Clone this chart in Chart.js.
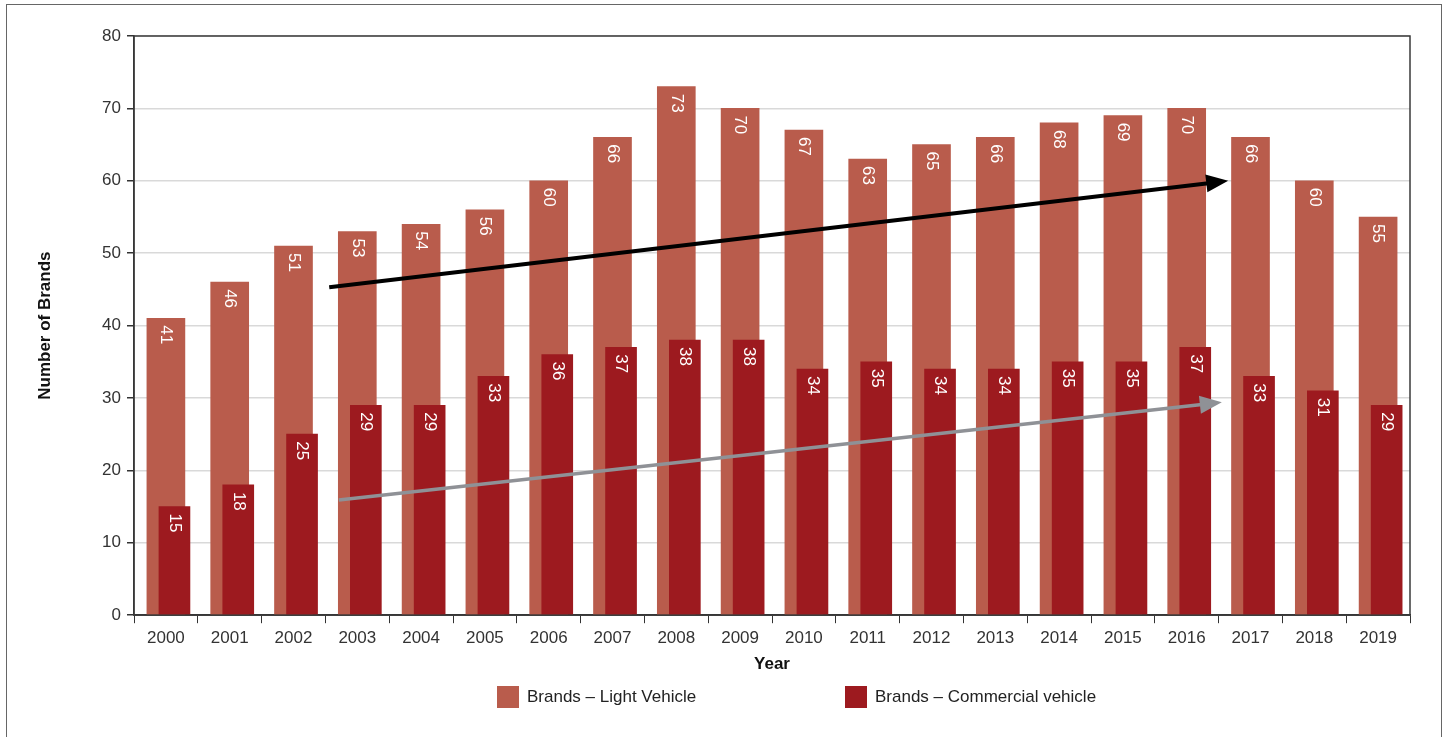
<!DOCTYPE html>
<html>
<head>
<meta charset="utf-8">
<title>Number of Brands</title>
<script src="https://cdn.jsdelivr.net/npm/chart.js@4.4.1/dist/chart.umd.min.js"></script>
<style>
  body { margin: 0; background: #fff; font-family: "Liberation Sans", Arial, sans-serif; }
  #frame {
    position: absolute; left: 6px; top: 4px; width: 1436px; height: 760px;
    border: 1px solid #666; box-sizing: border-box;
  }
  #chart { position: absolute; left: 0; top: 0; }
  .legend-item {
    position: absolute; top: 681px; display: flex; align-items: center;
    font-size: 17px; color: #222; white-space: nowrap;
  }
  .legend-box { width: 22px; height: 22px; margin-right: 8px; }
</style>
</head>
<body>
<div id="frame">
  <canvas id="chart" width="1434" height="690"></canvas>
  <div id="legend"></div>
</div>
<script>
// values
const years = ["2000", "2001", "2002", "2003", "2004", "2005", "2006", "2007", "2008", "2009",
               "2010", "2011", "2012", "2013", "2014", "2015", "2016", "2017", "2018", "2019"];
const lightVehicle = [41, 46, 51, 53, 54, 56, 60, 66, 73, 70, 67, 63, 65, 66, 68, 69, 70, 66, 60, 55];
const commercialVehicle = [15, 18, 25, 29, 29, 33, 36, 37, 38, 38, 34, 35, 34, 34, 35, 35, 37, 33, 31, 29];
const yTicks = [0, 10, 20, 30, 40, 50, 60, 70, 80];

// trend arrows, in data units: [year index, number of brands]
const trendArrows = [
  { from: [2.56, 45.3], to: [16.65, 60.0], color: "#000000", width: 4 },
  { from: [2.71, 15.9], to: [16.55, 29.4], color: "#8f9196", width: 3.5 },
];

const LIGHT = "#b95c4c";
const COMMERCIAL = "#9d1a1f";
const FONT = "'Liberation Sans', Arial, sans-serif";
const COMMERCIAL_SHIFT = 0.134; // commercial bars sit a little right of centre

// dark border round the plot area
const plotFrame = {
  id: "plotFrame",
  afterDraw(chart) {
    const { ctx, chartArea: a } = chart;
    ctx.save();
    ctx.strokeStyle = "#3a3a3a";
    ctx.lineWidth = 1.5;
    ctx.strokeRect(a.left, a.top, a.right - a.left, a.bottom - a.top);
    ctx.restore();
  },
};

// white rotated value labels near the top of each bar
const barLabels = {
  id: "barLabels",
  afterDatasetsDraw(chart) {
    const { ctx } = chart;
    ctx.save();
    ctx.fillStyle = "#ffffff";
    ctx.font = "17px " + FONT;
    ctx.textAlign = "left";
    ctx.textBaseline = "middle";
    chart.data.datasets.forEach((ds, di) => {
      const meta = chart.getDatasetMeta(di);
      meta.data.forEach((bar, i) => {
        const v = ds.data[i];
        const value = typeof v === "object" ? v.y : v;
        ctx.save();
        ctx.translate(bar.x, bar.y + 7);
        ctx.rotate(Math.PI / 2);
        ctx.fillText(String(value), 0, 0);
        ctx.restore();
      });
    });
    ctx.restore();
  },
};

// straight trend arrows over the bars
const arrows = {
  id: "arrows",
  afterDatasetsDraw(chart) {
    const { ctx } = chart;
    const xs = chart.scales.x2;
    const ys = chart.scales.y;
    trendArrows.forEach((a) => {
      const x1 = xs.getPixelForValue(a.from[0]);
      const y1 = ys.getPixelForValue(a.from[1]);
      const x2 = xs.getPixelForValue(a.to[0]);
      const y2 = ys.getPixelForValue(a.to[1]);
      const ang = Math.atan2(y2 - y1, x2 - x1);
      const headLen = 22, headHalf = 9;
      const bx = x2 - headLen * Math.cos(ang);
      const by = y2 - headLen * Math.sin(ang);
      ctx.save();
      ctx.strokeStyle = a.color;
      ctx.fillStyle = a.color;
      ctx.lineWidth = a.width;
      ctx.beginPath();
      ctx.moveTo(x1, y1);
      ctx.lineTo(bx + 2 * Math.cos(ang), by + 2 * Math.sin(ang));
      ctx.stroke();
      ctx.beginPath();
      ctx.moveTo(x2, y2);
      ctx.lineTo(bx + headHalf * Math.sin(ang), by - headHalf * Math.cos(ang));
      ctx.lineTo(bx - headHalf * Math.sin(ang), by + headHalf * Math.cos(ang));
      ctx.closePath();
      ctx.fill();
      ctx.restore();
    });
  },
};

// html legend under the chart
const legendLeft = [497, 845];
const htmlLegend = {
  id: "htmlLegend",
  afterUpdate(chart) {
    const box = document.getElementById("legend");
    box.innerHTML = "";
    const items = chart.options.plugins.legend.labels.generateLabels(chart)
      .sort((a, b) => a.datasetIndex - b.datasetIndex);
    items.forEach((item, i) => {
      const el = document.createElement("div");
      el.className = "legend-item";
      el.style.left = (legendLeft[i] - 7) + "px";
      const sw = document.createElement("span");
      sw.className = "legend-box";
      sw.style.background = item.fillStyle;
      const tx = document.createElement("span");
      tx.textContent = item.text;
      el.appendChild(sw);
      el.appendChild(tx);
      box.appendChild(el);
    });
  },
};

new Chart(document.getElementById("chart"), {
  type: "bar",
  data: {
    labels: years,
    datasets: [
      {
        label: "Brands – Light Vehicle",
        data: lightVehicle,
        backgroundColor: LIGHT,
        xAxisID: "x",
        barThickness: 38,
        grouped: false,
        order: 2,
      },
      {
        label: "Brands – Commercial vehicle",
        data: commercialVehicle.map((v, i) => ({ x: i + COMMERCIAL_SHIFT, y: v })),
        backgroundColor: COMMERCIAL,
        xAxisID: "x2",
        barThickness: 31,
        grouped: false,
        order: 1,
      },
    ],
  },
  options: {
    responsive: false,
    animation: false,
    layout: { padding: { left: 24, right: 31, top: 31, bottom: 15 } },
    plugins: {
      legend: { display: false },
      tooltip: { enabled: false },
    },
    scales: {
      x: {
        type: "category",
        offset: true,
        grid: { drawOnChartArea: false, drawTicks: true, tickLength: 8, color: "#333", offset: true },
        border: { color: "#333", width: 1.5 },
        ticks: { color: "#333", font: { family: FONT, size: 17 }, padding: 5, maxRotation: 0 },
        title: {
          display: true, text: "Year", color: "#111",
          font: { family: FONT, size: 17, weight: "bold" }, padding: { top: 1, bottom: 5 },
        },
      },
      x2: {
        type: "linear",
        display: false,
        min: -0.5,
        max: 19.5,
        offset: false,
      },
      y: {
        min: 0,
        max: 80,
        afterBuildTicks: (scale) => { scale.ticks = yTicks.map((v) => ({ value: v })); },
        afterFit: (scale) => { scale.width = 103; },
        grid: { color: "#d9d9d9", lineWidth: 1.5, tickLength: 7, tickColor: "#333" },
        border: { color: "#333", width: 1.5 },
        ticks: { color: "#333", font: { family: FONT, size: 17 }, padding: 6 },
        title: {
          display: true, text: "Number of Brands", color: "#111",
          font: { family: FONT, size: 17, weight: "bold" }, padding: { top: 4, bottom: 4 },
        },
      },
    },
  },
  plugins: [plotFrame, barLabels, arrows, htmlLegend],
});
</script>
</body>
</html>
